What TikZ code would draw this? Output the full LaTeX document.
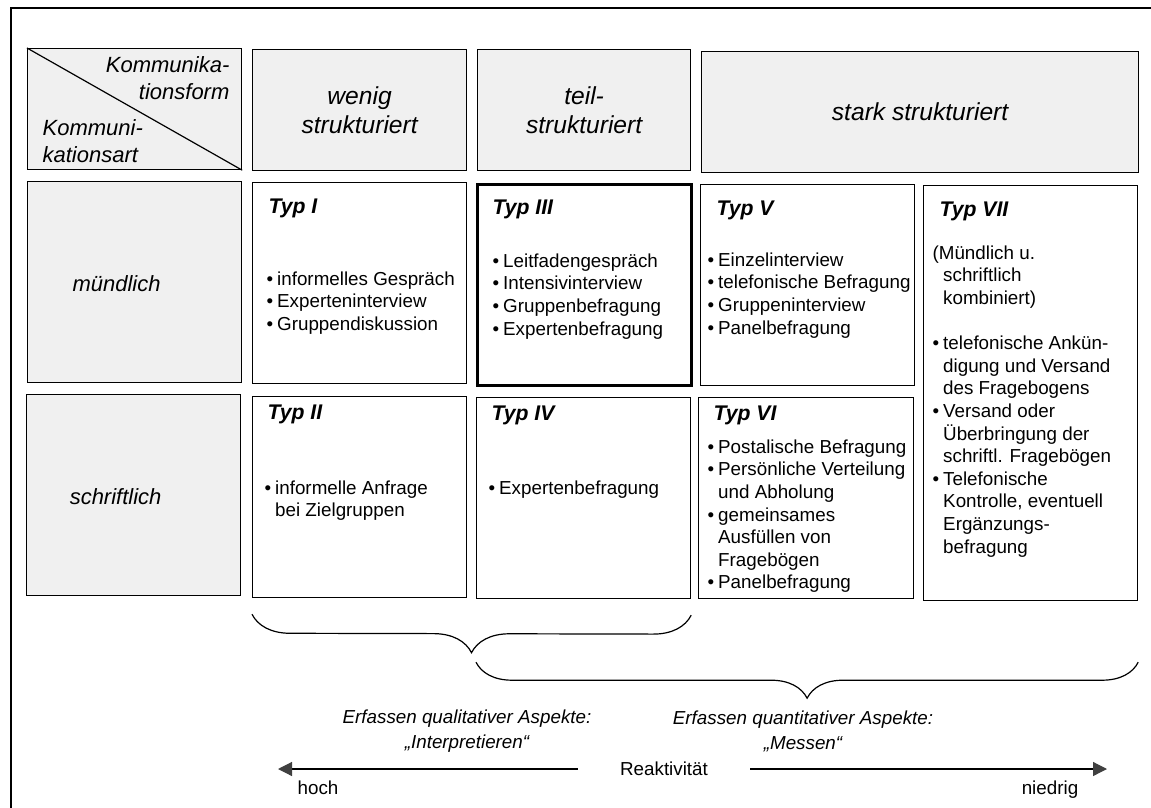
\documentclass[tikz,border=0pt]{standalone}
\usepackage{fontspec}
\setmainfont{Liberation Sans}
\usetikzlibrary{arrows.meta,calc,decorations.pathreplacing}
\definecolor{kopfgrau}{gray}{0.94}
\newcommand{\pkt}{\makebox[5.3pt][l]{•}}
\newcommand{\einr}{\hspace*{5.3pt}}

\begin{document}
\begin{tikzpicture}[x=0.5pt,y=-0.5pt,line width=0.6pt,
    every node/.style={inner sep=0pt},
    feld/.style={draw,anchor=north west,minimum width=107pt,minimum height=100.5pt},
    kopf/.style={feld,fill=kopfgrau,minimum height=60.5pt,align=center,
      font=\fontsize{12.3}{14.8}\selectfont\itshape},
    zeile/.style={font=\fontsize{11}{13.5}\selectfont\itshape},
    titel/.style={anchor=west,font=\fontsize{10.6}{12.7}\selectfont\bfseries\itshape},
    liste/.style={anchor=north west,align=left,font=\fontsize{9.4}{11.3}\selectfont},
    unten/.style={align=center,font=\fontsize{9.4}{12.5}\selectfont\itshape},
    klammer/.style={decorate,decoration={brace,mirror,amplitude=19pt}},
    >={Triangle[length=7pt,width=7pt,color=black!75]}]
  \useasboundingbox (0,0) rectangle (1151,808);
  \draw[line width=0.8pt] (10,8) -- (1151,8) (11,8) -- (11,808);
  % Kopfzeile
  \node[kopf] (ecke) at (27,48) {};
  \draw (ecke.north west) -- (ecke.south east);
  \node[zeile,anchor=east,align=right] at (230,78) {Kommunika-\\tionsform};
  \node[zeile,anchor=west,align=left] at (42,141) {Kommuni-\\kationsart};
  \node[kopf] (wenig) at (252,49) {wenig\\strukturiert};
  \node[kopf,minimum width=106.5pt] (teil) at (477,49) {teil-\\strukturiert};
  \node[kopf,minimum width=218.5pt] (stark) at (701,51) {stark strukturiert};
  % Zeilen
  \node[feld,fill=kopfgrau] (muendl) at (27,181) {};
  \node[zeile] at ($(muendl.center)+(-18,2)$) {mündlich};
  \node[feld,fill=kopfgrau] (schriftl) at (26,394) {};
  \node[zeile] at ($(schriftl.center)+(-18,2)$) {schriftlich};
  % Typen
  \node[feld] (typI) at (252,182) {};
  \node[feld,line width=1.6pt] (typIII) at (476,183) {};
  \node[feld] (typV) at (700,184) {};
  \node[feld,minimum height=207.5pt] (typVII) at (923,185) {};
  \node[feld] (typII) at (252,396) {};
  \node[feld] (typIV) at (476,397) {};
  \node[feld,minimum width=107.5pt] (typVI) at (698,397) {};
  \foreach \n/\t in {typI/Typ I,typIII/Typ III,typV/Typ V,typVII/Typ VII}
    {\node[titel] at ($(\n.north west)+(16,26)$) {\t};}
  \foreach \n/\t in {typII/Typ II,typIV/Typ IV,typVI/Typ VI}
    {\node[titel] at ($(\n.north west)+(15,18)$) {\t};}
  \node[liste] at (266,271) {\pkt informelles Gespräch\\\pkt Experteninterview\\
    \pkt Gruppendiskussion};
  \node[liste] at (492,253) {\pkt Leitfadengespräch\\\pkt Intensivinterview\\
    \pkt Gruppenbefragung\\\pkt Expertenbefragung};
  \node[liste] at (707,252) {\pkt Einzelinterview\\\pkt telefonische Befragung\\
    \pkt Gruppeninterview\\\pkt Panelbefragung};
  \node[liste] at (932,245) {(Mündlich u.\\\einr schriftlich\\\einr kombiniert)\\[11.3pt]
    \pkt telefonische Ankün-\\\einr digung und Versand\\\einr des Fragebogens\\
    \pkt Versand oder\\\einr Überbringung der\\\einr schriftl. Fragebögen\\
    \pkt Telefonische\\\einr Kontrolle, eventuell\\\einr Ergänzungs-\\\einr befragung};
  \node[liste] at (264,480) {\pkt informelle Anfrage\\\einr bei Zielgruppen};
  \node[liste] at (488,480) {\pkt Expertenbefragung};
  \node[liste] at (707,439) {\pkt Postalische Befragung\\\pkt Persönliche Verteilung\\
    \einr und Abholung\\\pkt gemeinsames\\\einr Ausfüllen von\\\einr Fragebögen\\
    \pkt Panelbefragung};
  % Klammern
  \draw[klammer] ($(typII.south west)+(0,16)$) -- ($(typIV.south east)+(0,16)$);
  \draw[klammer,decoration={amplitude=18pt}] ($(typIV.south west)+(0,63)$)
    -- ($(typVII.south east)+(0,61)$);
  \node[unten] (quali) at (467,731) {Erfassen qualitativer Aspekte:\\„Interpretieren“};
  \node[unten] (quanti) at (803,731) {Erfassen quantitativer Aspekte:\\„Messen“};
  % Reaktivitaet
  \node[font=\fontsize{9.4}{11.3}\selectfont] (reakt) at (664,769) {Reaktivität};
  \coordinate (hochEnde) at (278,769);
  \coordinate (niedrigEnde) at (1107,769);
  \draw[->] ($(reakt.west)+(-42,0)$) -- (hochEnde);
  \draw[->] ($(reakt.east)+(42,0)$) -- (niedrigEnde);
  \node[font=\fontsize{9.4}{11.3}\selectfont] (hoch) at (318,788) {hoch};
  \node[font=\fontsize{9.4}{11.3}\selectfont] (niedrig) at (1050,790) {niedrig};
\end{tikzpicture}
\end{document}
